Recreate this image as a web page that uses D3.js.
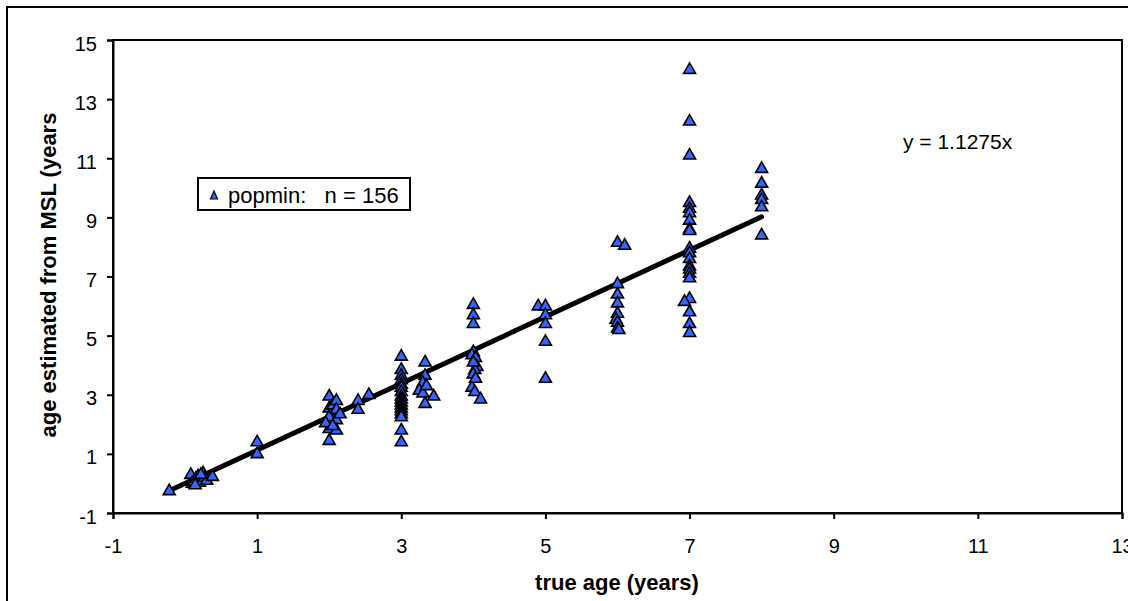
<!DOCTYPE html>
<html>
<head>
<meta charset="utf-8">
<script src="https://cdn.jsdelivr.net/npm/d3@7"></script>
<style>
  html, body { margin: 0; padding: 0; background: #fff; }
  svg { display: block; font-family: "Liberation Sans", Arial, sans-serif; }
</style>
</head>
<body>
<svg id="chart" width="1128" height="601"></svg>
<script>
// True age (years) of each fish and the age estimated from MSL (years)
const trueAge = [
  -0.22,
  0.08, 0.10, 0.12, 0.15, 0.18, 0.20, 0.25, 0.27, 0.30, 0.38, 0.14, 0.22,
  1, 1,
  2.0, 2.0, 2.0, 2.0, 2.0, 1.95, 2.05, 2.1, 2.1, 2.1, 2.1, 2.15, 2.05, 2.4, 2.4, 2.55,
  3, 3, 3, 3, 3, 3, 3, 3, 3, 3, 3, 3, 3, 3, 3, 3, 3,
  3.33, 3.33, 3.3, 3.25, 3.3, 3.33, 3.45, 3.35,
  4, 4, 4, 4, 3.98, 4.03, 4.05, 4.02, 4, 3.98, 4.02, 4.1, 4.0, 4.03,
  4.9, 5.0, 5.0, 5.0, 5.0, 5.0,
  6, 6.1, 6, 6, 6, 6, 5.98, 6, 6, 6.02,
  7, 7, 7, 7, 7, 7, 7, 7, 7, 7, 7, 7, 7, 7, 7, 7, 7, 7, 7, 7, 6.93,
  8, 8, 8, 8, 8, 8
];
const estAge = [
  -0.20,
  0.35, 0.05, 0.12, 0.22, 0.30, 0.08, 0.40, 0.25, 0.15, 0.28, 0.00, 0.35,
  1.45, 1.05,
  3.0, 2.6, 2.3, 1.9, 1.5, 2.1, 2.7, 2.85, 2.55, 2.2, 1.85, 2.4, 2.0, 2.85, 2.55, 3.05,
  4.35, 3.9, 3.7, 3.55, 3.4, 3.3, 3.15, 3.0, 2.9, 2.8, 2.7, 2.6, 2.5, 2.4, 2.3, 1.85, 1.45,
  4.15, 3.7, 3.45, 3.2, 3.1, 2.75, 3.0, 3.35,
  6.1, 5.75, 5.45, 4.5, 4.4, 4.3, 4.0, 3.9, 3.75, 3.3, 3.15, 2.9, 4.15, 3.6,
  6.05, 6.05, 5.75, 5.45, 4.85, 3.6,
  8.2, 8.1, 6.8, 6.45, 6.15, 5.8, 5.6, 5.5, 5.3, 5.25,
  14.05, 12.3, 11.15, 9.55, 9.35, 9.2, 8.95, 8.65, 8.6, 8.0, 7.85, 7.65, 7.4, 7.3, 7.15, 7.0, 6.3, 5.85, 5.45, 5.15, 6.2,
  10.7, 10.2, 9.8, 9.65, 9.4, 8.45
];
const xTicks = [-1, 1, 3, 5, 7, 9, 11, 13];
const yTicks = [-1, 1, 3, 5, 7, 9, 11, 13, 15];
const slope = 1.1275;
const seriesName = "popmin:   n = 156";
const equationText = "y = 1.1275x";
const xTitle = "true age (years)";
const yTitle = "age estimated from MSL (years";

const points = trueAge.map((x, i) => ({ x, y: estAge[i] }));

const svg = d3.select("#chart");
const plot = { left: 113, top: 40, right: 1122, bottom: 513 };

const x = d3.scaleLinear().domain([-1, 13]).range([plot.left, plot.right]);
const y = d3.scaleLinear().domain([-1, 15]).range([plot.bottom, plot.top]);

// Outer chart frame (continues past the right and bottom edges)
svg.append("rect")
  .attr("x", 7).attr("y", 7)
  .attr("width", 1140).attr("height", 620)
  .attr("fill", "#fff").attr("stroke", "#000").attr("stroke-width", 2);

// Plot area border
svg.append("rect")
  .attr("x", plot.left).attr("y", plot.top)
  .attr("width", plot.right - plot.left).attr("height", plot.bottom - plot.top)
  .attr("fill", "none").attr("stroke", "#000").attr("stroke-width", 2);

// Axes (plain hyphen for negative tick labels)
const fmt = d => String(d);
const xAxis = svg.append("g")
  .attr("transform", `translate(0,${plot.bottom})`)
  .call(d3.axisBottom(x).tickValues(xTicks).tickSize(6).tickPadding(20).tickFormat(fmt));
const yAxis = svg.append("g")
  .attr("transform", `translate(${plot.left},0)`)
  .call(d3.axisLeft(y).tickValues(yTicks).tickSize(6).tickPadding(10).tickFormat(fmt));

[xAxis, yAxis].forEach(g => {
  g.select(".domain").attr("stroke", "#000").attr("stroke-width", 2);
  g.selectAll(".tick line").attr("stroke", "#000").attr("stroke-width", 2);
  g.selectAll(".tick text")
    .attr("fill", "#000")
    .style("font-family", "'Liberation Sans', Arial, sans-serif")
    .style("font-size", "20px");
});
yAxis.selectAll(".tick text").attr("dy", "0.5em");

// Trendline through the origin, across the range of the data
const xExt = d3.extent(trueAge);
svg.append("line")
  .attr("x1", x(xExt[0])).attr("y1", y(slope * xExt[0]))
  .attr("x2", x(xExt[1])).attr("y2", y(slope * xExt[1]))
  .attr("stroke", "#000").attr("stroke-width", 5).attr("stroke-linecap", "round");

// Triangle marker path centred on its bounding box
function tri(w, h) {
  return `M0,${-h / 2}L${w / 2},${h / 2}L${-w / 2},${h / 2}Z`;
}

svg.append("g").selectAll("path")
  .data(points)
  .join("path")
  .attr("transform", d => `translate(${x(d.x)},${y(d.y)})`)
  .attr("d", tri(12, 10.5))
  .attr("fill", "#3366ff")
  .attr("stroke", "#000")
  .attr("stroke-width", 1.6)
  .attr("stroke-linejoin", "miter");

// Legend
const legend = svg.append("g");
legend.append("rect")
  .attr("x", 198).attr("y", 178).attr("width", 212).attr("height", 32)
  .attr("fill", "#fff").attr("stroke", "#000").attr("stroke-width", 2);
legend.append("path")
  .attr("transform", "translate(214,195)")
  .attr("d", tri(7, 8))
  .attr("fill", "#3366ff").attr("stroke", "#000").attr("stroke-width", 1.2);
legend.append("text")
  .attr("x", 228).attr("y", 203)
  .style("font-size", "22px")
  .style("white-space", "pre")
  .attr("xml:space", "preserve")
  .text(seriesName);

// Trendline equation
svg.append("text")
  .attr("x", 903).attr("y", 149)
  .style("font-size", "21px")
  .text(equationText);

// Axis titles
svg.append("text")
  .attr("x", 617).attr("y", 590)
  .attr("text-anchor", "middle")
  .style("font-size", "22px").style("font-weight", "bold")
  .text(xTitle);
svg.append("text")
  .attr("transform", "translate(56,275) rotate(-90)")
  .attr("text-anchor", "middle")
  .style("font-size", "22px").style("font-weight", "bold")
  .text(yTitle);
</script>
</body>
</html>
